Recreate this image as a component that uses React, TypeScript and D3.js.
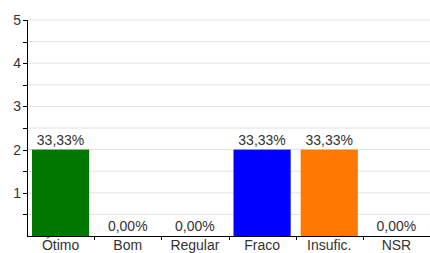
import * as d3 from 'd3'

const CATEGORIES = ['Ótimo', 'Bom', 'Regular', 'Fraco', 'Insufic.', 'NSR']
const VALUES = [2, 0, 0, 2, 2, 0]
const PERCENT_LABELS = ['33,33%', '0,00%', '0,00%', '33,33%', '33,33%', '0,00%']
const COLORS = ['#007800', '#0000cc', '#888888', '#0000ff', '#ff7800', '#888888']
const Y_TICKS = [1, 2, 3, 4, 5]

const W = 430
const H = 253
const LEFT = 27
const RIGHT = 430
const TOP = 20
const BOTTOM = 236
const FONT = 'Liberation Sans, Arial, sans-serif'

export default function App() {
  const x = d3.scaleBand<string>().domain(CATEGORIES).range([LEFT, RIGHT]).paddingInner(0).paddingOuter(0)
  const y = d3.scaleLinear().domain([0, 5]).range([BOTTOM, TOP])
  const halfTicks = d3.range(0.5, 5.01, 0.5)
  const inset = 5

  return (
    <svg
      width={W}
      height={H}
      style={{ position: 'absolute', left: 0, top: 0, background: '#fff' }}
      fontFamily={FONT}
    >
      {halfTicks.map((t) => (
        <g key={t}>
          <line x1={LEFT} x2={RIGHT} y1={y(t)} y2={y(t)} stroke="#e2e2e2" strokeWidth={1} />
          <line x1={LEFT - 4} x2={LEFT} y1={Math.round(y(t)) + 0.5} y2={Math.round(y(t)) + 0.5} stroke="#000" />
        </g>
      ))}
      {Y_TICKS.map((t) => (
        <text key={t} x={LEFT - 6} y={y(t) + 5} textAnchor="end" fontSize={14} fill="#333">
          {t}
        </text>
      ))}
      {CATEGORIES.map((c, i) => {
        const bx = (x(c) ?? 0) + inset
        const bw = x.bandwidth() - inset * 2
        return (
          <g key={c}>
            {VALUES[i] > 0 && (
              <rect x={bx} y={y(VALUES[i])} width={bw} height={BOTTOM - y(VALUES[i])} fill={COLORS[i]} />
            )}
            <text
              x={(x(c) ?? 0) + x.bandwidth() / 2}
              y={y(VALUES[i]) - 5}
              textAnchor="middle"
              fontSize={14}
              fill="#333"
            >
              {PERCENT_LABELS[i]}
            </text>
            <text x={(x(c) ?? 0) + x.bandwidth() / 2} y={250} textAnchor="middle" fontSize={14} fill="#333">
              {c}
            </text>
            {i > 0 && (
              <line
                x1={Math.round(x(c) ?? 0) + 0.5}
                x2={Math.round(x(c) ?? 0) + 0.5}
                y1={BOTTOM}
                y2={BOTTOM + 4}
                stroke="#000"
              />
            )}
          </g>
        )
      })}
      <line x1={LEFT + 0.5} x2={LEFT + 0.5} y1={TOP} y2={BOTTOM} stroke="#000" />
      <line x1={LEFT} x2={RIGHT} y1={BOTTOM + 0.5} y2={BOTTOM + 0.5} stroke="#000" />
    </svg>
  )
}
